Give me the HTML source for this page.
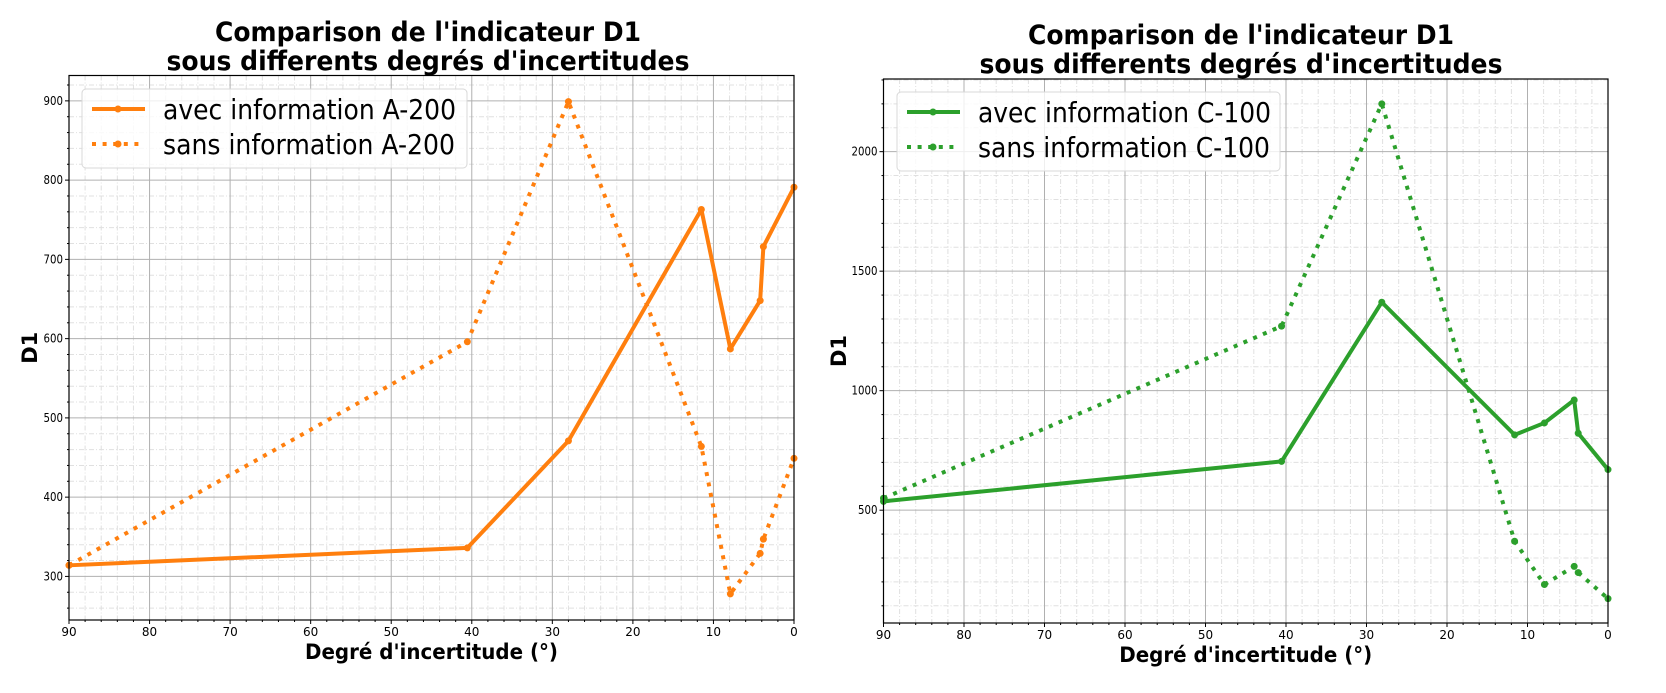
<!DOCTYPE html>
<html><head><meta charset="utf-8"><style>
html,body{margin:0;padding:0;background:#fff;}
svg{display:block;font-family:"DejaVu Sans","Liberation Sans",sans-serif;}
</style></head><body>
<svg id="fig" width="1666" height="693" viewBox="0 0 1666 693" xmlns="http://www.w3.org/2000/svg"></svg>
<script>
const xsA = [90, 40.55, 28, 11.5, 7.9, 4.2, 3.8, 0];
const avecA = [314, 336, 471, 763, 587, 648, 716, 791];
const sansA = [314, 596, 899, 464, 278, 329, 347, 449];
const xsC = [90, 40.55, 28.1, 11.6, 7.9, 4.2, 3.7, 0];
const avecC = [537, 704, 1370, 815, 865, 961, 822, 670];
const sansC = [550, 1270, 2200, 370, 189, 265, 239, 130];
const xTicks = [90, 80, 70, 60, 50, 40, 30, 20, 10, 0];
const yTicksA = [300, 400, 500, 600, 700, 800, 900];
const yTicksC = [500, 1000, 1500, 2000];

const NS = "http://www.w3.org/2000/svg";
const svg = document.getElementById('fig');
function mk(tag, attrs, parent) {
  const e = document.createElementNS(NS, tag);
  for (const k in attrs) e.setAttribute(k, attrs[k]);
  (parent || svg).appendChild(e);
  return e;
}

function panel(cfg) {
  const g = mk('g', {});
  
  
  const L = cfg.L, R = cfg.R, T = cfg.T, B = cfg.B;
  const sx = v => L + (90 - v) / 90 * (R - L);
  const sy = v => B - (v - cfg.ymin) / (cfg.ymax - cfg.ymin) * (B - T);
  for (let v = 0; v <= 90; v += 2) {
    if (v % 10 === 0) continue;
    const l = mk('line', {x1: sx(v), x2: sx(v), y1: T, y2: B, stroke: '#e0e0e0', 'stroke-width': 1, 'stroke-dasharray': '5 2 1 2'}, g);
    
    
  }
  const ystart = Math.ceil(cfg.ymin / cfg.minor) * cfg.minor;
  for (let v = ystart; v <= cfg.ymax; v += cfg.minor) {
    if (v % cfg.major === 0) continue;
    const l = mk('line', {x1: L, x2: R, y1: sy(v), y2: sy(v), stroke: '#e0e0e0', 'stroke-width': 1, 'stroke-dasharray': '5 2 1 2'}, g);
    
    
    mk('line', {x1: L - 2, x2: L, y1: sy(v), y2: sy(v), stroke: '#000', 'stroke-width': 1}, g);
  }
  for (let v = 0; v <= 90; v += 2) {
    if (v % 10 === 0) continue;
    mk('line', {x1: sx(v), x2: sx(v), y1: B, y2: B + 2, stroke: '#000', 'stroke-width': 1}, g);
  }
  xTicks.forEach(v => {
    const l = mk('line', {x1: sx(v), x2: sx(v), y1: T, y2: B, stroke: '#b0b0b0', 'stroke-width': 1}, g);
    
    
    mk('line', {x1: sx(v), x2: sx(v), y1: B, y2: B + 4, stroke: '#000', 'stroke-width': 1}, g);
    const t = mk('text', {x: sx(v), y: B + 16, 'font-size': 12, 'text-anchor': 'middle', fill: '#000'}, g);
    
    
    t.textContent = v;
  });
  cfg.yTicks.forEach(v => {
    const l = mk('line', {x1: L, x2: R, y1: sy(v), y2: sy(v), stroke: '#b0b0b0', 'stroke-width': 1}, g);
    
    
    mk('line', {x1: L - 4, x2: L, y1: sy(v), y2: sy(v), stroke: '#000', 'stroke-width': 1}, g);
    const t = mk('text', {x: L - 6, y: sy(v) + 4, 'font-size': 12, 'text-anchor': 'end', fill: '#000', transform: 'translate(' + (L - 6) + ' 0) scale(0.85 1) translate(' + (-(L - 6)) + ' 0)'}, g);
    
    
    t.textContent = v;
  });
  function series(xs, ys, dotted, nm) {
    const pts = xs.map((x, i) => sx(x) + ',' + sy(ys[i])).join(' ');
    const a = {points: pts, fill: 'none', stroke: cfg.color, 'stroke-width': 4, 'stroke-linejoin': 'round'};
    if (dotted) { a['stroke-dasharray'] = '4 6.6'; }
    const pl = mk('polyline', a, g);
    
    
    xs.forEach((x, i) => {
      const c = mk('circle', {cx: sx(x), cy: sy(ys[i]), r: 3.5, fill: cfg.color}, g);
      
      
    });
  }
  series(cfg.xs, cfg.avec, false, 'avec-series');
  series(cfg.xs, cfg.sans, true, 'sans-series');
  const fr = mk('rect', {x: L, y: T, width: R - L, height: B - T, fill: 'none', stroke: '#000', 'stroke-width': 1.2}, g);
  
  
  const lg = mk('g', {}, g);
  
  
  mk('rect', {x: cfg.lg[0], y: cfg.lg[1], width: cfg.lg[2], height: cfg.lg[3], rx: 4, fill: 'rgba(255,255,255,0.8)', stroke: '#d8d8d8', 'stroke-width': 1}, lg);
  const lx = cfg.lg[0] + 10, ly1 = cfg.lg[1] + 20, ly2 = cfg.lg[1] + 55;
  mk('line', {x1: lx, x2: lx + 53, y1: ly1, y2: ly1, stroke: cfg.color, 'stroke-width': 4}, lg);
  mk('circle', {cx: lx + 26, cy: ly1, r: 3.5, fill: cfg.color}, lg);
  mk('line', {x1: lx, x2: lx + 53, y1: ly2, y2: ly2, stroke: cfg.color, 'stroke-width': 4, 'stroke-dasharray': '4 6.6'}, lg);
  mk('circle', {cx: lx + 26, cy: ly2, r: 3.5, fill: cfg.color}, lg);
  const t1 = mk('text', {x: cfg.lg[0] + 81, y: ly1 + 10, 'font-size': 28, fill: '#000', textLength: cfg.tl, lengthAdjust: 'spacingAndGlyphs'}, lg);
  
  
  t1.textContent = 'avec information ' + cfg.label;
  const t2 = mk('text', {x: cfg.lg[0] + 81, y: ly2 + 10, 'font-size': 28, fill: '#000', textLength: cfg.tl2, lengthAdjust: 'spacingAndGlyphs'}, lg);
  
  
  t2.textContent = 'sans information ' + cfg.label;
  const cx = cfg.tc;
  const a1 = mk('text', {x: cx, y: cfg.ty, 'font-size': 27, 'font-weight': 'bold', 'text-anchor': 'middle', textLength: 426, lengthAdjust: 'spacingAndGlyphs'}, g);
  
  
  a1.textContent = "Comparison de l'indicateur D1";
  const a2 = mk('text', {x: cx, y: cfg.ty + 29, 'font-size': 27, 'font-weight': 'bold', 'text-anchor': 'middle', textLength: 523, lengthAdjust: 'spacingAndGlyphs'}, g);
  
  
  a2.textContent = "sous differents degrés d'incertitudes";
  const xl = mk('text', {x: (L + R) / 2, y: B + 39, 'font-size': 21, 'font-weight': 'bold', 'text-anchor': 'middle', textLength: 253, lengthAdjust: 'spacingAndGlyphs'}, g);
  
  
  xl.textContent = "Degré d'incertitude (°)";
  const yc = (T + B) / 2;
  const yl = mk('text', {x: cfg.ylx, y: yc, 'font-size': 21, 'font-weight': 'bold', 'text-anchor': 'middle', transform: 'rotate(-90 ' + cfg.ylx + ' ' + yc + ')'}, g);
  
  
  yl.textContent = 'D1';
}

panel({name: 'chart-a200', L: 69, R: 794, T: 75.5, B: 620, ymin: 245, ymax: 932, major: 100, minor: 20,
  yTicks: yTicksA, xs: xsA, avec: avecA, sans: sansA, color: '#ff7f0e', label: 'A-200',
  lg: [82, 89, 385, 79], tl: 293, tl2: 292, tc: 428, ty: 41, ylx: 37});
panel({name: 'chart-c100', L: 883.5, R: 1608, T: 79, B: 623, ymin: 28, ymax: 2304, major: 500, minor: 100,
  yTicks: yTicksC, xs: xsC, avec: avecC, sans: sansC, color: '#2ca02c', label: 'C-100',
  lg: [897, 92, 383, 79], tl: 293, tl2: 292, tc: 1241, ty: 44, ylx: 846});
</script>
</body></html>
